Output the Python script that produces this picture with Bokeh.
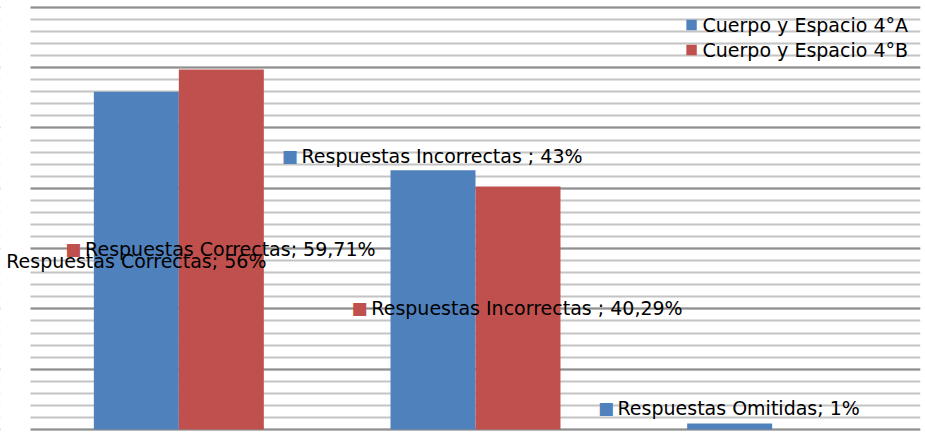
from bokeh.plotting import figure
from bokeh.models import ColumnDataSource, FixedTicker, LabelSet, Range1d, Legend, LegendItem, BoxAnnotation
from bokeh.transform import dodge
from bokeh.core.properties import value
from bokeh.embed import file_html
from bokeh.resources import INLINE

# ---- data ----
categories = ["Respuestas Correctas", "Respuestas Incorrectas ", "Respuestas Omitidas"]
series_names = ["Cuerpo y Espacio 4°A", "Cuerpo y Espacio 4°B"]
values_a = [56, 43, 1]
values_b = [59.71, 40.29, 0]
colors = ["#4F81BD", "#C0504D"]

# which labels are shown and whether a legend key precedes them
show_label_a = [True, True, True]
show_label_b = [True, True, False]
key_a = [False, True, True]
key_b = [True, True, False]
# labels moved by hand (data units), otherwise centred in bar
label_y_override_a = {1: 45.4, 2: 3.5}
label_y_override_b = {}

FONT = "DejaVu Sans"
FS = 19
SQ_FS = 17

n = len(categories)
xpos = [i + 0.5 for i in range(n)]  # category centres on a numeric scale

p = figure(
    x_range=Range1d(-30 / 296.67, n),
    y_range=Range1d(-0.83, 71.14),
    width=925, height=434,
    output_backend="svg", toolbar_location=None,
    min_border_left=0, min_border_right=5, min_border_top=0, min_border_bottom=0,
)
p.xaxis.visible = False
p.yaxis.visible = False
p.xgrid.visible = False
p.outline_line_color = None
p.background_fill_color = "white"
p.border_fill_color = "white"

p.ygrid.ticker = FixedTicker(ticks=list(range(0, 71, 10)), minor_ticks=list(range(0, 71, 2)))
p.ygrid.grid_line_color = "#8f8f8f"
p.ygrid.grid_line_width = 2
p.ygrid.minor_grid_line_color = "#c4c4c4"
p.ygrid.minor_grid_line_width = 2

# the plot area (and its gridlines) begins at the first category's left edge
p.add_layout(BoxAnnotation(right=0, fill_color="white", fill_alpha=1, line_color=None, level="glyph"))

src = ColumnDataSource(dict(x=xpos, cat=categories, a=values_a, b=values_b))
bw = 0.2865
ra = p.vbar(x=dodge("x", -bw / 2), top="a", width=bw, source=src,
            fill_color=colors[0], line_color=None)
rb = p.vbar(x=dodge("x", bw / 2), top="b", width=bw, source=src,
            fill_color=colors[1], line_color=None)


def text_width_px(s, fs):
    # approximate DejaVu Sans advance widths (units per 2048 em)
    w = {"R": 1423, "e": 1260, "s": 1067, "p": 1300, "u": 1298, "t": 803, "a": 1255, " ": 651,
         "I": 604, "n": 1298, "c": 1126, "o": 1253, "r": 842, ";": 690, "%": 1946, ",": 651,
         "C": 1430, "O": 1612, "m": 1995, "i": 569, "d": 1300}
    return sum(w.get(ch, 1303) for ch in s) / 2048 * fs


def add_labels(vals, shows, keys, over, series_dx, color):
    xs, ys, texts, xoffs = [], [], [], []
    kxs, kys, kxoffs = [], [], []
    for i, (c, v) in enumerate(zip(categories, vals)):
        if not shows[i]:
            continue
        txt = f"{c}; {v:g}%".replace(".", ",")
        y = over.get(i, v / 2)
        shift = 9 if keys[i] else 0
        xs.append(xpos[i])
        ys.append(y)
        texts.append(txt)
        xoffs.append(shift)
        if keys[i]:
            kxs.append(xpos[i])
            kys.append(y)
            kxoffs.append(shift - text_width_px(txt, FS) / 2 - 11)
    s = ColumnDataSource(dict(x=xs, y=ys, text=texts, xoff=xoffs))
    p.add_layout(LabelSet(x=dodge("x", series_dx), y="y", text="text", source=s,
                          x_offset="xoff", text_align="center", text_baseline="middle",
                          text_font=value(FONT), text_font_size=value(f"{FS}px"),
                          text_color="#000000"))
    ks = ColumnDataSource(dict(x=kxs, y=kys, text=["■"] * len(kxs), xoff=kxoffs))
    p.add_layout(LabelSet(x=dodge("x", series_dx), y="y", text="text", source=ks,
                          x_offset="xoff", text_align="center", text_baseline="middle",
                          text_font=value(FONT), text_font_size=value(f"{SQ_FS}px"),
                          text_color=color))


add_labels(values_a, show_label_a, key_a, label_y_override_a, -bw / 2, colors[0])
add_labels(values_b, show_label_b, key_b, label_y_override_b, bw / 2, colors[1])

legend = Legend(items=[LegendItem(label=series_names[0], renderers=[ra]),
                       LegendItem(label=series_names[1], renderers=[rb])])
legend.location = "top_right"
legend.margin = 12
legend.padding = 0
legend.spacing = 0
legend.border_line_color = None
legend.background_fill_alpha = 0
legend.glyph_width = 13
legend.glyph_height = 13
legend.label_height = 25
legend.label_standoff = 5
legend.label_text_font = FONT
legend.label_text_font_size = f"{FS}px"
legend.label_text_color = "#000000"
legend.label_text_baseline = "middle"
p.add_layout(legend)

open("out.html", "w").write(file_html(p, INLINE))
